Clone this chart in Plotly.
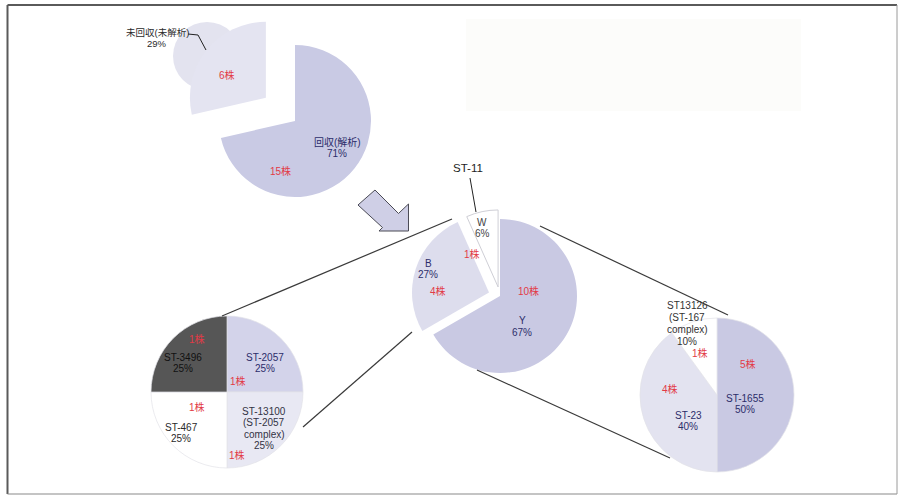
import plotly.graph_objects as go

W, H = 905, 495

# ---------------- data ----------------
top_labels = ["回収(解析)", "未回収(未解析)"]
top_counts = [15, 6]
top_pct = [71, 29]

mid_labels = ["Y", "B", "W"]
mid_counts = [10, 4, 1]
mid_pct = [67, 27, 6]

bl_labels = ["ST-2057", "ST-13100<br>(ST-2057<br>complex)", "ST-467", "ST-3496"]
bl_counts = [1, 1, 1, 1]
bl_pct = [25, 25, 25, 25]

rt_labels = ["ST-1655", "ST-23", "ST13126<br>(ST-167<br>complex)"]
rt_counts = [5, 4, 1]
rt_pct = [50, 40, 10]

# ---------------- styles ----------------
FONT = "Liberation Sans, Arial, Noto Sans CJK JP, sans-serif"
RED = "#e23a46"
NAVY = "#2c2d6a"
DARK = "#2a2a2a"


def px(x, y):
    return x / W, 1 - y / H


def dom(cx, cy, r, pull):
    half = r * (1 + pull)
    return dict(x=[(cx - half) / W, (cx + half) / W],
                y=[1 - (cy + half) / H, 1 - (cy - half) / H])


fig = go.Figure()

# top pie
fig.add_trace(go.Pie(
    labels=top_labels, values=top_counts, sort=False, direction="clockwise", rotation=0,
    pull=[0, 0.49], textinfo="none", hoverinfo="skip", showlegend=False,
    marker=dict(colors=["#c9cae4", "#e4e4f1"], line=dict(width=0)),
    domain=dom(295, 121, 76, 0.49)))

# middle pie
fig.add_trace(go.Pie(
    labels=mid_labels, values=mid_counts, sort=False, direction="clockwise", rotation=0,
    pull=[0, 0.15, 0.12], textinfo="none", hoverinfo="skip", showlegend=False,
    marker=dict(colors=["#c9c9e3", "#dddded", "#ffffff"],
                line=dict(width=[0, 0, 1], color="#cfcfd6")),
    domain=dom(500, 296, 77, 0.15)))

# bottom-left pie
fig.add_trace(go.Pie(
    labels=bl_labels, values=bl_counts, sort=False, direction="clockwise", rotation=0,
    textinfo="none", hoverinfo="skip", showlegend=False,
    marker=dict(colors=["#d3d3ea", "#e8e8f3", "#ffffff", "#565656"],
                line=dict(width=0.7, color="#e2e2e8")),
    domain=dom(227, 392, 76, 0)))

# right pie
fig.add_trace(go.Pie(
    labels=rt_labels, values=rt_counts, sort=False, direction="clockwise", rotation=0,
    textinfo="none", hoverinfo="skip", showlegend=False,
    marker=dict(colors=["#c9c9e3", "#e3e3f0", "#ffffff"],
                line=dict(width=0.7, color="#e2e2e8")),
    domain=dom(717, 395, 77, 0)))

# ---------------- shapes ----------------
shapes = []


def line(x0, y0, x1, y1, color="#3a3a3a", width=1.2):
    a, b = px(x0, y0)
    c, d = px(x1, y1)
    shapes.append(dict(type="line", xref="paper", yref="paper", x0=a, y0=b, x1=c, y1=d,
                       line=dict(color=color, width=width)))


# frame
line(7.5, 5, 897, 5, "#5a5a5a", 2)
line(7.5, 5, 7.5, 494, "#5a5a5a", 2)
line(7.5, 494, 897, 494, "#8a8a8a", 1.2)
line(897, 5, 897, 494, "#9a9a9a", 1)

# faint box top right
a, b = px(466, 19)
c, d = px(801, 111)
shapes.append(dict(type="rect", xref="paper", yref="paper", x0=a, y0=b, x1=c, y1=d,
                   fillcolor="#fcfcfa", line=dict(width=0), layer="below"))

# ghost circle behind exploded slice
a, b = px(173, 22)
c, d = px(241, 90)
shapes.append(dict(type="circle", xref="paper", yref="paper", x0=a, y0=b, x1=c, y1=d,
                   fillcolor="#e3e3ef", line=dict(width=0), layer="below"))

# connector lines
line(452, 219, 222, 316)
line(412, 332, 303, 427)
line(540, 226, 728, 315)
line(477, 370, 670, 458)

# leader lines
line(470, 178, 476, 212, "#222", 1)
line(188, 34, 198, 35, "#222", 1)
line(198, 35, 206, 50, "#222", 1)

# arrow
pts = [(375, 190), (398.5, 213.5), (408.5, 204), (408.5, 231), (379, 231), (382.5, 227.5), (358, 205)]
path = "M " + " L ".join(f"{x / W:.5f},{1 - y / H:.5f}" for x, y in pts) + " Z"
shapes.append(dict(type="path", xref="paper", yref="paper", path=path,
                   fillcolor="#cfcfe6", line=dict(color="#4a4a55", width=1)))

# ---------------- annotations ----------------
ann = []


def txt(x, y, s, color=DARK, size=10):
    a, b = px(x, y)
    ann.append(dict(x=a, y=b, xref="paper", yref="paper", text=s, showarrow=False,
                    xanchor="center", yanchor="middle",
                    font=dict(family=FONT, size=size, color=color)))


def multi(x, y, lines, color, step=11.6, size=10):
    for i, s in enumerate(lines):
        txt(x, y + i * step, s, color, size)


# top pie
multi(157, 33, [top_labels[1], f"{top_pct[1]}%"], DARK, 10.5, 9.5)
txt(227, 75, f"{top_counts[1]}株", RED)
multi(337, 142, [top_labels[0], f"{top_pct[0]}%"], NAVY, 11.6)
txt(280, 171, f"{top_counts[0]}株", RED)

# middle pie
txt(468, 168, "ST-11", "#1e1e1e", 11.5)
multi(482, 222, [mid_labels[2], f"{mid_pct[2]}%"], "#444", 11.2)
txt(472, 254, f"{mid_counts[2]}株", RED)
multi(428, 263, [mid_labels[1], f"{mid_pct[1]}%"], NAVY, 11.4)
txt(438, 291, f"{mid_counts[1]}株", RED)
txt(528, 291, f"{mid_counts[0]}株", RED)
multi(522, 320, [mid_labels[0], f"{mid_pct[0]}%"], NAVY, 12)

# bottom-left pie
txt(197, 339, f"{bl_counts[3]}株", RED)
multi(183, 357, [bl_labels[3], f"{bl_pct[3]}%"], "#111111", 11.6)
multi(265, 357, [bl_labels[0], f"{bl_pct[0]}%"], NAVY, 11.6)
txt(238, 381, f"{bl_counts[0]}株", RED)
txt(197, 407, f"{bl_counts[2]}株", RED)
multi(181, 427, [bl_labels[2], f"{bl_pct[2]}%"], DARK, 11)
multi(264, 411, bl_labels[1].split("<br>") + [f"{bl_pct[1]}%"], "#333344", 11.6)
txt(237, 455, f"{bl_counts[1]}株", RED)

# right pie
multi(687, 305, rt_labels[2].split("<br>") + [f"{rt_pct[2]}%"], "#333333", 12.2)
txt(700, 353, f"{rt_counts[2]}株", RED)
txt(748, 364, f"{rt_counts[0]}株", RED)
txt(670, 389, f"{rt_counts[1]}株", RED)
multi(745, 398, [rt_labels[0], f"{rt_pct[0]}%"], NAVY, 11)
multi(688, 415, [rt_labels[1], f"{rt_pct[1]}%"], NAVY, 11.7)

fig.update_layout(
    width=W, height=H, margin=dict(l=0, r=0, t=0, b=0),
    paper_bgcolor="white", plot_bgcolor="white",
    shapes=shapes, annotations=ann, showlegend=False,
)

fig.write_html("out.html", config={"displayModeBar": False})
